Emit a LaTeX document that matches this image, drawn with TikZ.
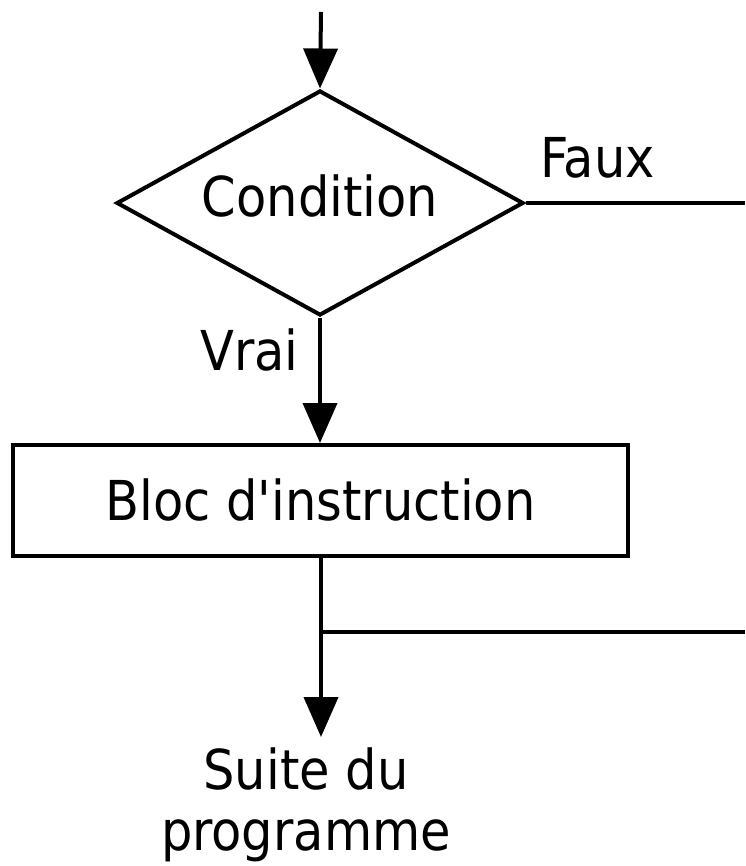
\documentclass[tikz,border=0pt]{standalone}
\usepackage{fontspec}
\setmainfont{DejaVu Sans Condensed}
\usetikzlibrary{shapes.geometric,arrows.meta}
\begin{document}
\begin{tikzpicture}[x=1pt,y=-1pt,
  every node/.style={font=\fontsize{55}{61}\selectfont},
  ln/.style={line width=4pt},
  arr/.style={ln,-{Triangle[width=34pt,length=40pt]}},
  dec/.style={draw,ln,shape=diamond,inner sep=0pt,minimum width=407pt,minimum height=225pt,aspect=1.81,text height=40pt,text depth=12pt},
  blk/.style={draw,ln,rectangle,inner sep=0pt,minimum width=615pt,minimum height=111pt,text height=40pt,text depth=0pt},
  lbl/.style={inner sep=0pt}]
\useasboundingbox (0,0) rectangle (745,866);
\coordinate (start) at (321,12);
\node[dec] (cond) at (320,203) {Condition};
\node[blk] (bloc) at (320.5,500.5) {Bloc d\textquotesingle instruction};
\coordinate (fauxend) at (745,203);
\coordinate (join) at (321,632);
\coordinate (joinend) at (745,632);
\coordinate (suitetop) at (321,737);
\node[lbl,anchor=base west] (faux) at (540,178) {Faux};
\node[lbl,anchor=base west] (vrai) at (200,370) {Vrai};
\node[lbl,align=center,anchor=base] (suite) at (306,850) {Suite du\\programme};
\draw[arr] (start) -- (cond.north);
\draw[ln] (cond.east) -- (fauxend);
\draw[arr] (cond.south) -- (bloc.north -| cond.south);
\draw[ln] (bloc.south -| join) -- (join);
\draw[arr] (join) -- (suitetop);
\draw[ln] (join) -- (joinend);
\end{tikzpicture}
\end{document}
